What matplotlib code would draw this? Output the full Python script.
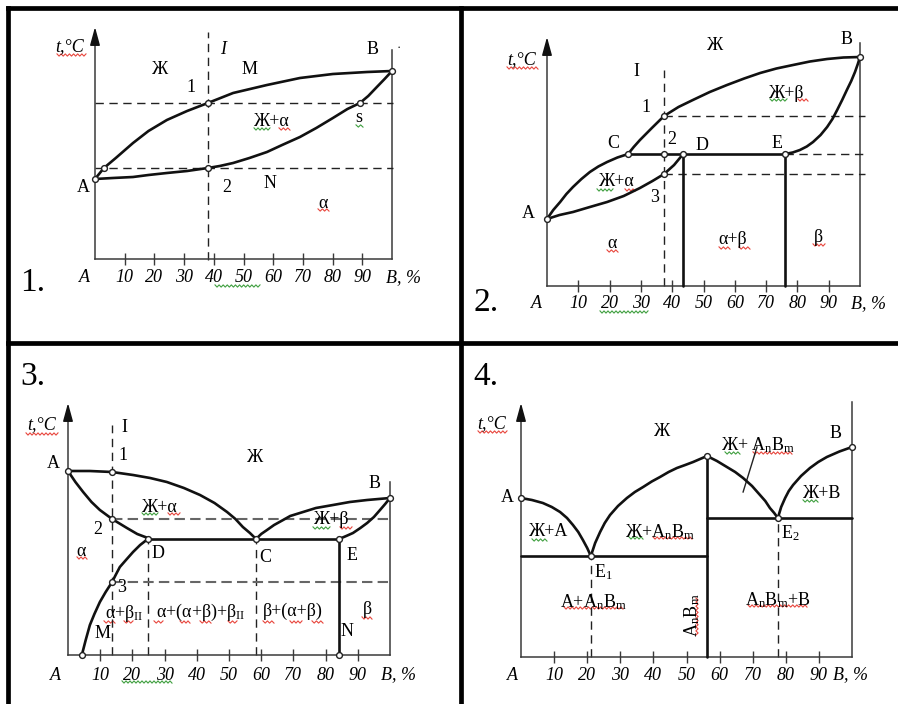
import numpy as np
import matplotlib
matplotlib.use('Agg')
import matplotlib.pyplot as plt

plt.rcParams['font.family'] = ['Liberation Serif', 'DejaVu Serif']
plt.rcParams['mathtext.fontset'] = 'custom'
plt.rcParams['mathtext.rm'] = 'Liberation Serif'
plt.rcParams['mathtext.it'] = 'Liberation Serif:italic'

W, H = 898, 704
fig = plt.figure(figsize=(W / 100, H / 100), dpi=100)
fig.patch.set_facecolor('white')

# ---------------- data ----------------
tick_pos = [10, 20, 30, 40, 50, 60, 70, 80, 90]
tick_labels = ['10', '20', '30', '40', '50', '60', '70', '80', '90']
AB = r'$\mathrm{A_nB_m}$'

# panel 1: isomorphous system
p1_liq_x = [0, 3.0, 7.0, 12.8, 18.0, 24.2, 31.0, 38.0, 46.5, 57.9, 69.0, 80.1, 91.6, 100]
p1_liq_t = [80, 91, 101, 116, 128, 139, 148, 156, 166, 174, 181, 185, 187, 188]
p1_sol_x = [0, 6.0, 12.8, 18.0, 24.2, 31.0, 38.0, 42.0, 46.5, 52.0, 57.9, 63.0, 69.0,
            74.5, 80.1, 85.0, 89.2, 92.0, 94.9, 97.5, 100]
p1_sol_t = [80, 81, 82, 84, 86, 88, 91, 93, 96, 101, 107, 114, 122,
            131, 141, 150, 156, 163, 172, 180, 188]
p1_alloy = 38.0
p1_levels = [156, 91]
p1_pts_x = [0, 3.0, 38.0, 38.0, 89.2, 100]
p1_pts_t = [80, 91, 156, 91, 156, 188]

# panel 2: peritectic system
p2_liqL_x = [0, 2.0, 4.2, 6.2, 8.3, 11.0, 13.7, 16.4, 19.2, 22.5, 25.9]
p2_liqL_t = [67, 76, 84, 92, 99, 107, 114, 119.5, 124, 128.5, 132]
p2_solL_x = [0, 4.0, 8.3, 13.7, 19.2, 24.5, 29.7, 33.7, 37.4, 40.6, 43.5]
p2_solL_t = [67, 71, 74, 79, 84, 90, 98, 105, 112, 121, 132]
p2_liqR_x = [25.9, 27.7, 29.7, 33.5, 37.4, 42.0, 46.6, 52.0, 57.5, 63.0, 68.1,
             73.3, 78.6, 84.0, 89.5, 94.7, 100]
p2_liqR_t = [132, 139, 146, 158, 170, 179, 186, 194, 201, 207.5, 213,
             217.5, 221, 224.5, 227, 228.5, 229]
p2_solR_x = [76.0, 78.5, 80.8, 83.0, 85.0, 87.4, 89.5, 91.2, 92.7, 94.3, 95.8,
             97.2, 98.4, 99.3, 100]
p2_solR_t = [132, 133.5, 136, 139.5, 144, 151, 159, 167, 176, 186, 196,
             205, 214, 222, 229]
p2_iso_t = 132
p2_C, p2_D, p2_E = 25.9, 43.5, 76.0
p2_alloy = 37.4
p2_levels = [170, 112]
p2_pts_x = [0, 100, 25.9, 37.4, 43.5, 76.0, 37.4, 37.4]
p2_pts_t = [67, 229, 132, 132, 132, 132, 170, 112]

# panel 3: eutectic system with limited solubility
p3_liqA_x = [0, 6.8, 13.7, 20.2, 25.5, 30.7, 36.0, 41.0, 45.5, 49.4, 52.0, 54.3, 56.5, 58.4]
p3_liqA_t = [184, 184, 183, 180, 177, 173, 167, 160, 152, 143, 136, 128, 122, 116]
p3_liqB_x = [58.4, 60.0, 61.8, 64.0, 66.8, 69.0, 72.0, 77.0, 82.3, 87.5, 92.9, 100]
p3_liqB_t = [116, 121, 125, 130, 135, 139, 142, 147, 150, 153, 155, 157]
p3_solA_x = [0, 2.3, 4.7, 7.3, 9.9, 13.7, 18.3, 21.5, 24.8]
p3_solA_t = [184, 173, 163, 153, 145, 136, 127, 121, 117]
p3_solv_x = [24.8, 22.4, 20.2, 18.0, 16.1, 14.8, 13.7, 11.7, 9.9, 8.2, 6.8, 5.5, 4.3]
p3_solv_t = [116, 110, 103, 95, 88, 80, 73, 63, 53, 41, 30, 15, 0]
p3_solB_x = [84.2, 86.4, 88.5, 90.8, 92.9, 95.0, 96.9, 98.5, 100]
p3_solB_t = [116, 119, 122, 127, 132, 138, 145, 151, 157]
p3_iso_t = 116
p3_D, p3_C, p3_E = 24.8, 58.4, 84.2
p3_alloy = 13.7
p3_levels = [136, 73]
p3_pts_x = [0, 13.7, 13.7, 13.7, 24.8, 58.4, 84.2, 100, 4.3, 84.2]
p3_pts_t = [184, 183, 136, 73, 116, 116, 116, 157, 0, 0]

# panel 4: system with a chemical compound AnBm
p4_c1_x = [0, 3.3, 6.6, 9.3, 11.8, 13.9, 15.7, 17.3, 18.7, 20.0, 21.1]
p4_c1_t = [159, 157, 154, 150, 145, 139, 132, 125, 117, 109, 101]
p4_c2_x = [21.1, 22.4, 23.9, 25.3, 26.9, 29.3, 32.0, 34.4, 36.9, 39.5, 42.0,
           44.6, 47.1, 49.6, 52.0, 54.1, 56.2]
p4_c2_t = [101, 114, 125, 134, 142, 151, 159, 165, 170, 175.5, 180,
           185, 189, 192, 195, 198, 201]
p4_c3_x = [56.2, 59.2, 62.2, 64.7, 67.1, 69.8, 72.2, 73.8, 75.2, 76.5, 77.6]
p4_c3_t = [201, 196, 190, 185, 179, 171, 162, 156, 149, 144, 139]
p4_c4_x = [77.6, 78.6, 79.8, 80.9, 82.2, 84.6, 87.3, 89.8, 92.4, 96.2, 100]
p4_c4_t = [139, 150, 159, 166, 172, 181, 189, 195, 200, 205.5, 210]
p4_E1, p4_comp, p4_E2 = 21.1, 56.2, 77.6
p4_E1_t, p4_comp_t, p4_E2_t = 101, 201, 139
p4_pts_x = [0, 21.1, 56.2, 77.6, 100]
p4_pts_t = [159, 101, 201, 139, 210]

# ---------------- style ----------------
CURVE = dict(color='#111111', lw=1.9, solid_capstyle='round', solid_joinstyle='round',
             clip_on=False, zorder=3)
AXC = '#3a3a3a'
DASH = dict(color='#222222', lw=1.0, linestyle=(0, (6, 4)), clip_on=False, zorder=2)
FS = 13
TFS = 13


def make_panel(x0, x1, base, tip):
    ax = fig.add_axes([x0 / W, 1 - base / H, (x1 - x0) / W, (base - tip) / H])
    ax.set_xlim(0, 100)
    ax.set_ylim(0, base - tip)
    ax.patch.set_visible(False)
    for s in ('top', 'right'):
        ax.spines[s].set_visible(False)
    ax.spines['left'].set_bounds(0, base - tip - 8)
    ax.spines['left'].set_color(AXC)
    ax.spines['bottom'].set_color(AXC)
    ax.spines['left'].set_linewidth(1.1)
    ax.spines['bottom'].set_linewidth(1.1)
    ax.set_yticks([])
    ax.set_xticks(tick_pos)
    ax.tick_params(axis='x', direction='inout', length=8, width=1.0, color=AXC,
                   labelbottom=False)
    ttip = base - tip
    ax.annotate('', xy=(0, ttip), xytext=(0, ttip - 16),
                arrowprops=dict(arrowstyle='-|>,head_length=1.1,head_width=0.3',
                                color='#111111', lw=1.1, shrinkA=0, shrinkB=0),
                annotation_clip=False)
    return ax


def axis_text(ax, label_t, ax_x, bx, right_top, num, num_xy):
    ax.plot([100, 100], [0, right_top], color=AXC, lw=1.1, clip_on=False)
    for p, lab_ in zip(tick_pos, tick_labels):
        ax.text(p, label_t, lab_, ha='center', va='center', fontsize=TFS,
                style='italic', clip_on=False)
    ax.text(ax_x, label_t, 'A', ha='center', va='center', fontsize=TFS,
            style='italic')
    ax.text(bx, label_t, 'B, %', ha='center', va='center', fontsize=TFS,
            style='italic')
    ax.text(num_xy[0], num_xy[1], num, ha='center', va='center', fontsize=24)


def circles(ax, xs, ts):
    ax.plot(xs, ts, 'o', ms=4.2, mfc='white', mec='#222222', mew=1.0,
            clip_on=False, zorder=5, linestyle='none')


def lab(ax, x, t, s, **kw):
    kw.setdefault('fontsize', FS)
    ax.text(x, t, s, ha='center', va='center', **kw)


# ================= Panel 1 =================
ax1 = make_panel(95, 392, 259, 27)
axis_text(ax1, -19, -3.4, 104.0, 209, '1.', (-20.9, -24))
ax1.plot(p1_liq_x, p1_liq_t, **CURVE)
ax1.plot(p1_sol_x, p1_sol_t, **CURVE)
ax1.plot([p1_alloy, p1_alloy], [-1, 227], **DASH)
for lv in p1_levels:
    ax1.plot([0, 100.4], [lv, lv], **DASH)
circles(ax1, p1_pts_x, p1_pts_t)
lab(ax1, -8.4, 212, 't,°C', style='italic')
lab(ax1, 21.9, 189, 'Ж')
lab(ax1, 43.1, 210, 'I', style='italic')
lab(ax1, 51.9, 189, 'M')
lab(ax1, 32.3, 172, '1')
lab(ax1, 93.3, 209, 'B')
lab(ax1, 59.6, 137, 'Ж+α')
lab(ax1, 88.9, 141, 's')
lab(ax1, -4.0, 72, 'A')
lab(ax1, 44.4, 72, '2')
lab(ax1, 58.9, 76, 'N')
lab(ax1, 76.8, 56, 'α')
lab(ax1, 102.4, 211, '·', fontsize=9)

# ================= Panel 2 =================
ax2 = make_panel(547, 860, 286, 37)
axis_text(ax2, -18, -3.2, 102.6, 243, '2.', (-19.5, -17))
for xs, ts in [(p2_liqL_x, p2_liqL_t), (p2_solL_x, p2_solL_t),
               (p2_liqR_x, p2_liqR_t), (p2_solR_x, p2_solR_t)]:
    ax2.plot(xs, ts, **CURVE)
ax2.plot([p2_C, p2_E], [p2_iso_t, p2_iso_t], **CURVE)
ax2.plot([p2_D, p2_D], [0, p2_iso_t], **CURVE)
ax2.plot([p2_E, p2_E], [0, p2_iso_t], **CURVE)
ax2.plot([p2_alloy, p2_alloy], [0, 216], **DASH)
for lv in p2_levels:
    ax2.plot([p2_alloy, 101.6], [lv, lv], **DASH)
ax2.plot([p2_E, 101.6], [p2_iso_t, p2_iso_t], **DASH)
circles(ax2, p2_pts_x, p2_pts_t)
lab(ax2, -8.0, 226, 't,°C', style='italic')
lab(ax2, 53.7, 241, 'Ж')
lab(ax2, 95.8, 246, 'B')
lab(ax2, 28.4, 215, 'I')
lab(ax2, 76.7, 193, 'Ж+β')
lab(ax2, 31.6, 179, '1')
lab(ax2, 21.1, 143, 'C')
lab(ax2, 39.9, 147, '2')
lab(ax2, 49.5, 141, 'D')
lab(ax2, 73.5, 143, 'E')
lab(ax2, 22.4, 104, 'Ж+α')
lab(ax2, 34.5, 88, '3')
lab(ax2, -6.1, 73, 'A')
lab(ax2, 20.8, 43, 'α')
lab(ax2, 59.4, 46, 'α+β')
lab(ax2, 86.6, 49, 'β')

# ================= Panel 3 =================
ax3 = make_panel(68, 390, 655, 403)
axis_text(ax3, -20, -4.0, 102.5, 173, '3.', (-10.9, 278))
for xs, ts in [(p3_liqA_x, p3_liqA_t), (p3_liqB_x, p3_liqB_t),
               (p3_solA_x, p3_solA_t), (p3_solv_x, p3_solv_t),
               (p3_solB_x, p3_solB_t)]:
    ax3.plot(xs, ts, **CURVE)
ax3.plot([p3_D, p3_E], [p3_iso_t, p3_iso_t], **CURVE)
ax3.plot([p3_E, p3_E], [0, p3_iso_t], **CURVE)
ax3.plot([p3_alloy, p3_alloy], [0, 230], **DASH)
ax3.plot([p3_D, p3_D], [0, p3_iso_t], **DASH)
ax3.plot([p3_C, p3_C], [0, p3_iso_t], **DASH)
GDASH = dict(color='#666666', lw=1.5, linestyle=(0, (5, 2.5)), clip_on=False, zorder=2)
ax3.plot([p3_alloy, 100], [p3_levels[0], p3_levels[0]], **GDASH)
ax3.plot([p3_alloy, 100.9], [p3_levels[1], p3_levels[1]], **GDASH)
circles(ax3, p3_pts_x, p3_pts_t)
lab(ax3, -8.1, 230, 't,°C', style='italic')
lab(ax3, 17.4, 228, 'I')
lab(ax3, -4.7, 191, 'A')
lab(ax3, 17.1, 200, '1')
lab(ax3, 58.1, 197, 'Ж')
lab(ax3, 95.3, 172, 'B')
lab(ax3, 28.6, 148, 'Ж+α')
lab(ax3, 82.0, 135, 'Ж+β')
lab(ax3, 9.3, 125, '2')
lab(ax3, 4.0, 103, 'α')
lab(ax3, 28.0, 102, 'D')
lab(ax3, 61.2, 98, 'C')
lab(ax3, 88.2, 100, 'E')
lab(ax3, 16.8, 67, '3')
lab(ax3, 17.6, 42, r'α+β$_{\mathrm{II}}$')
lab(ax3, 41.3, 43, r'α+(α+β)+β$_{\mathrm{II}}$')
lab(ax3, 69.9, 44, 'β+(α+β)')
lab(ax3, 92.9, 45, 'β')
lab(ax3, 10.6, 22, 'M')
lab(ax3, 86.6, 23, 'N')

# ================= Panel 4 =================
ax4 = make_panel(521, 852, 657, 403)
axis_text(ax4, -18, -2.7, 99.4, 255, '4.', (-10.6, 280))
for xs, ts in [(p4_c1_x, p4_c1_t), (p4_c2_x, p4_c2_t),
               (p4_c3_x, p4_c3_t), (p4_c4_x, p4_c4_t)]:
    ax4.plot(xs, ts, **CURVE)
ax4.plot([0, p4_comp], [p4_E1_t, p4_E1_t], **CURVE)
ax4.plot([p4_comp, 100], [p4_E2_t, p4_E2_t], **CURVE)
ax4.plot([p4_comp, p4_comp], [0, p4_comp_t], **CURVE)
ax4.plot([p4_E1, p4_E1], [0, p4_E1_t], **DASH)
ax4.plot([p4_E2, p4_E2], [0, p4_E2_t], **DASH)
ax4.plot([71.3, 67.1], [210, 165], color='#222222', lw=1.0)
circles(ax4, p4_pts_x, p4_pts_t)
lab(ax4, -8.8, 233, 't,°C', style='italic')
lab(ax4, 42.6, 226, 'Ж')
lab(ax4, 71.6, 212, 'Ж+ ' + AB)
lab(ax4, 94.9, 223, 'B')
lab(ax4, -4.2, 160, 'A')
lab(ax4, 90.9, 164, 'Ж+B')
lab(ax4, 8.5, 125, 'Ж+A')
lab(ax4, 42.0, 125, 'Ж+' + AB)
lab(ax4, 24.8, 85, r'E$_1$')
lab(ax4, 81.3, 124, r'E$_2$')
lab(ax4, 21.8, 55, 'A+' + AB)
lab(ax4, 51.7, 42, AB, rotation=90)
lab(ax4, 77.6, 57, AB + '+B')

# ================= frame + spell-check squiggles (pixel overlay) =================
ov = fig.add_axes([0, 0, 1, 1], zorder=-1)
ov.set_xlim(0, W)
ov.set_ylim(H, 0)
ov.axis('off')
BK = dict(color='black', lw=3.4, solid_capstyle='projecting')
ov.plot([8, 898], [8, 8], **BK)
ov.plot([8, 8], [8, 704], **BK)
ov.plot([460.5, 460.5], [8, 704], **BK)
ov.plot([8, 898], [342.5, 342.5], **BK)

RED, GRN = '#e8453c', '#3f9f3f'
squiggles = [
    # panel 1
    (57, 86, 55, RED), (254, 270, 129, GRN), (279, 290, 129, RED),
    (356, 363, 126, GRN), (318, 329, 210, RED), (215, 260, 286, GRN),
    # panel 2
    (507, 538, 68, RED), (770, 787, 100, GRN), (798, 808, 100, RED),
    (597, 613, 190, GRN), (625, 635, 190, RED), (607, 618, 251, RED),
    (719, 730, 248, RED), (739, 750, 248, RED), (813, 825, 245, RED),
    (600, 648, 312, GRN),
    # panel 3
    (26, 58, 434, RED), (142, 158, 514, GRN), (168, 180, 514, RED),
    (313, 330, 528, GRN), (340, 352, 528, RED), (77, 87, 558, RED),
    (104, 115, 622, RED), (124, 133, 622, RED), (154, 163, 622, RED),
    (180, 190, 622, RED), (200, 211, 622, RED), (228, 237, 622, RED),
    (263, 274, 622, RED), (290, 302, 622, RED), (312, 323, 622, RED),
    (362, 372, 618, RED), (122, 172, 682, GRN),
    # panel 4
    (478, 507, 432, RED), (725, 740, 453, GRN), (753, 792, 453, RED),
    (803, 818, 501, GRN), (532, 547, 540, GRN), (629, 643, 538, GRN),
    (653, 692, 538, RED), (564, 623, 608, RED), (748, 807, 606, RED),
]
for x0, x1, y, c in squiggles:
    n = int((x1 - x0) / 2) + 1
    xs = np.linspace(x0, x1, n)
    ys = y + np.where(np.arange(n) % 2 == 0, -1.1, 1.1)
    ov.plot(xs, ys, color=c, lw=0.8)
# vertical squiggle beside the rotated AnBm label
n = int((635 - 598) / 2) + 1
ys = np.linspace(598, 635, n)
xs = 697 + np.where(np.arange(n) % 2 == 0, -1.1, 1.1)
ov.plot(xs, ys, color=RED, lw=0.8)

fig.savefig('out.png', dpi=100, facecolor='white')
